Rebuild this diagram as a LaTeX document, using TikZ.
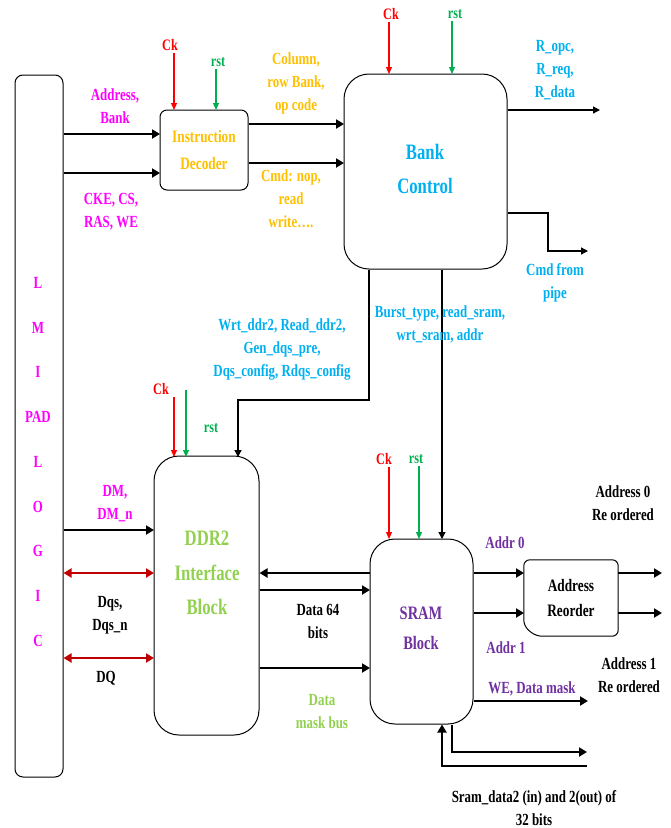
\documentclass[tikz,border=0pt]{standalone}
\usepackage{fontspec}
\setmainfont{Liberation Serif}[FakeStretch=0.76]
\usetikzlibrary{arrows.meta}
\definecolor{ckred}{HTML}{FF0000}
\definecolor{rstgreen}{HTML}{00B050}
\definecolor{padpink}{HTML}{FF00FF}
\definecolor{decgold}{HTML}{FFC000}
\definecolor{bankblue}{HTML}{00B0F0}
\definecolor{ddrgreen}{HTML}{92D050}
\definecolor{srampurple}{HTML}{7030A0}
\definecolor{dqred}{HTML}{C00000}
\begin{document}
\begin{tikzpicture}[x=1pt,y=-1pt,
  every node/.style={font=\fontsize{17}{23}\selectfont\bfseries,align=center},
  blk/.style={draw,line width=1pt,rounded corners=25pt,inner sep=0pt},
  bus/.style={-{Triangle[length=8pt,width=9pt]},line width=2.4pt},
  sig/.style={-{Triangle[length=7pt,width=7pt]},line width=1.3pt},
  bidir/.style={{Triangle[length=8pt,width=9pt]}-{Triangle[length=8pt,width=9pt]},line width=2pt,dqred},
  ckarr/.style={-{Triangle[length=7pt,width=6pt]},line width=1.2pt,ckred},
  rstarr/.style={-{Triangle[length=7pt,width=6pt]},line width=1.2pt,rstgreen},
  cklbl/.style={font=\fontsize{16}{18}\selectfont\bfseries,text=ckred,inner sep=2pt},
  rstlbl/.style={font=\fontsize{16}{18}\selectfont\bfseries,text=rstgreen,inner sep=2pt}]
\useasboundingbox (0,0) rectangle (670,828);
% blocks
\node[blk,rounded corners=8pt,minimum width=48pt,minimum height=702pt] (pad) at (39,426) {};
\node[text=padpink,font=\fontsize{17}{44.75}\selectfont\bfseries] (padtxt) at (38,462) {L\\M\\I\\PAD\\L\\O\\G\\I\\C};
\node[blk,rounded corners=7pt,minimum width=88pt,minimum height=80pt,text=decgold,font=\fontsize{17.5}{27}\selectfont\bfseries] (idec) at (204,150) {Instruction\\Decoder};
\node[blk,minimum width=163pt,minimum height=195pt] (bank) at (425.5,171.5) {};
\node[text=bankblue,font=\fontsize{22}{34}\selectfont\bfseries] (banktxt) at (425,168.5) {Bank\\Control};
\node[blk,minimum width=105pt,minimum height=279pt] (ddr) at (206.5,595.5) {};
\node[text=ddrgreen,font=\fontsize{22}{34.5}\selectfont\bfseries] (ddrtxt) at (207,573) {DDR2\\Interface\\Block};
\node[blk,minimum width=103pt,minimum height=185pt] (sram) at (421.5,631.5) {};
\node[text=srampurple,font=\fontsize{19}{30}\selectfont\bfseries] (sramtxt) at (421,628) {SRAM\\Block};
\node[minimum width=94pt,minimum height=76pt,inner sep=0pt,font=\fontsize{17.5}{25}\selectfont\bfseries] (areo) at (571,598) {Address\\Reorder};
\draw[line width=1pt,rounded corners=6pt] ([yshift=10pt]areo.south west) -- (areo.north west) -- (areo.north east) -- (areo.south east) -- ([xshift=12pt]areo.south west) -- cycle;
% ports
\coordinate (idIn1) at (160,134); \coordinate (idIn2) at (160,173);
\coordinate (bkIn1) at (344,124); \coordinate (bkIn2) at (344,163);
\coordinate (rOut) at (600,110);
\coordinate (cmdTurn) at (548,213); \coordinate (cmdEnd) at (588,251);
\coordinate (wrtTurn) at (369,400); \coordinate (ddrIn) at (238,457);
\coordinate (srIn) at (442,539);
\coordinate (dmIn) at (154,530); \coordinate (dqsIn) at (154,573); \coordinate (dqIn) at (154,658);
\coordinate (sdA) at (370,573); \coordinate (sdB) at (370,590); \coordinate (sdC) at (370,668);
\coordinate (arA) at (524,573); \coordinate (arB) at (524,613);
\coordinate (aoA) at (662,573); \coordinate (aoB) at (662,613);
\coordinate (weOut) at (588,701);
\coordinate (sdoTurn) at (452,752); \coordinate (sdoEnd) at (587,752);
\coordinate (sdiStart) at (587,766); \coordinate (sdiTurn) at (442,766);
% clock and reset
\node[cklbl] (ckI) at (170,45) {Ck};
\node[rstlbl] (rstI) at (218,62) {rst};
\coordinate (idCk) at (174,110); \coordinate (idRst) at (216,110);
\draw[ckarr] (idCk |- ckI.south) -- (idCk);
\draw[rstarr] (idRst |- rstI.south) -- (idRst);
\node[cklbl] (ckB) at (391,14) {Ck};
\node[rstlbl] (rstB) at (455,14) {rst};
\coordinate (bkCk) at (389,74); \coordinate (bkRst) at (452,74);
\draw[ckarr] (bkCk |- ckB.south) -- (bkCk);
\draw[rstarr] (bkRst |- rstB.south) -- (bkRst);
\node[cklbl] (ckD) at (161,389) {Ck};
\node[rstlbl] (rstD) at (211,428) {rst};
\coordinate (ddrCk) at (174,457); \coordinate (ddrRstTop) at (186,390); \coordinate (ddrRst) at (186,457);
\draw[ckarr] (ddrCk |- ckD.south) -- (ddrCk);
\draw[rstarr] (ddrRstTop) -- (ddrRst);
\node[cklbl] (ckS) at (384,459) {Ck};
\node[rstlbl] (rstS) at (416,459) {rst};
\coordinate (srCk) at (389,539); \coordinate (srRst) at (419,539);
\draw[ckarr] (srCk |- ckS.south) -- (srCk);
\draw[rstarr] (srRst |- rstS.south) -- (srRst);
% connectors
\draw[bus] (pad.east |- idIn1) -- (idIn1);
\draw[bus] (pad.east |- idIn2) -- (idIn2);
\draw[bus] (idec.east |- bkIn1) -- (bkIn1);
\draw[bus] (idec.east |- bkIn2) -- (bkIn2);
\draw[sig] (bank.east |- rOut) -- (rOut);
\draw[sig] (bank.east |- cmdTurn) -- (cmdTurn) |- (cmdEnd);
\draw[sig] (wrtTurn |- bank.south) -- (wrtTurn) -| (ddrIn);
\draw[sig] (srIn |- bank.south) -- (srIn);
\draw[bus] (pad.east |- dmIn) -- (dmIn);
\draw[bidir] (pad.east |- dqsIn) -- (dqsIn);
\draw[bidir] (pad.east |- dqIn) -- (dqIn);
\draw[bus] (sdA) -- (ddr.east |- sdA);
\draw[bus] (ddr.east |- sdB) -- (sdB);
\draw[bus] (ddr.east |- sdC) -- (sdC);
\draw[bus] (sram.east |- arA) -- (arA);
\draw[bus] (sram.east |- arB) -- (arB);
\draw[bus] (areo.east |- aoA) -- (aoA);
\draw[bus] (areo.east |- aoB) -- (aoB);
\draw[bus] (sram.east |- weOut) -- (weOut);
\draw[bus] (sdoTurn |- sram.south) -- (sdoTurn) -- (sdoEnd);
\draw[bus] (sdiStart) -- (sdiTurn) -- (sdiTurn |- sram.south);
% labels
\node[text=padpink] (addrLbl) at (115,106) {Address,\\Bank};
\node[text=padpink] (ckeLbl) at (111,212) {CKE, CS,\\RAS, WE};
\node[text=decgold] (colLbl) at (296,83) {Column,\\row Bank,\\op code};
\node[text=decgold] (cmdLbl) at (291,199) {Cmd: nop,\\read\\write….};
\node[text=bankblue] (rLbl) at (555,70) {R\_opc,\\R\_req,\\R\_data};
\node[text=bankblue] (pipeLbl) at (555,283) {Cmd from\\pipe};
\node[text=bankblue] (burstLbl) at (440,324) {Burst\_type, read\_sram,\\wrt\_sram, addr};
\node[text=bankblue] (wrtLbl) at (282,349) {Wrt\_ddr2, Read\_ddr2,\\Gen\_dqs\_pre,\\Dqs\_config, Rdqs\_config};
\node[text=padpink] (dmLbl) at (115,504) {DM,\\DM\_n};
\node (dqsLbl) at (110,615) {Dqs,\\Dqs\_n};
\node (dqLbl) at (106,678) {DQ};
\node (dataLbl) at (318,621) {Data 64\\bits};
\node[text=ddrgreen] (maskLbl) at (322,712) {Data\\mask bus};
\node[text=srampurple] (a0Lbl) at (505,543) {Addr 0};
\node[text=srampurple] (a1Lbl) at (506,648) {Addr 1};
\node (ro0Lbl) at (623,503) {Address 0\\Re ordered};
\node (ro1Lbl) at (629,675) {Address 1\\Re ordered};
\node[text=srampurple] (weLbl) at (532,689) {WE, Data mask};
\node (sdLbl) at (534,808) {Sram\_data2 (in) and 2(out) of\\32 bits};
\end{tikzpicture}
\end{document}
